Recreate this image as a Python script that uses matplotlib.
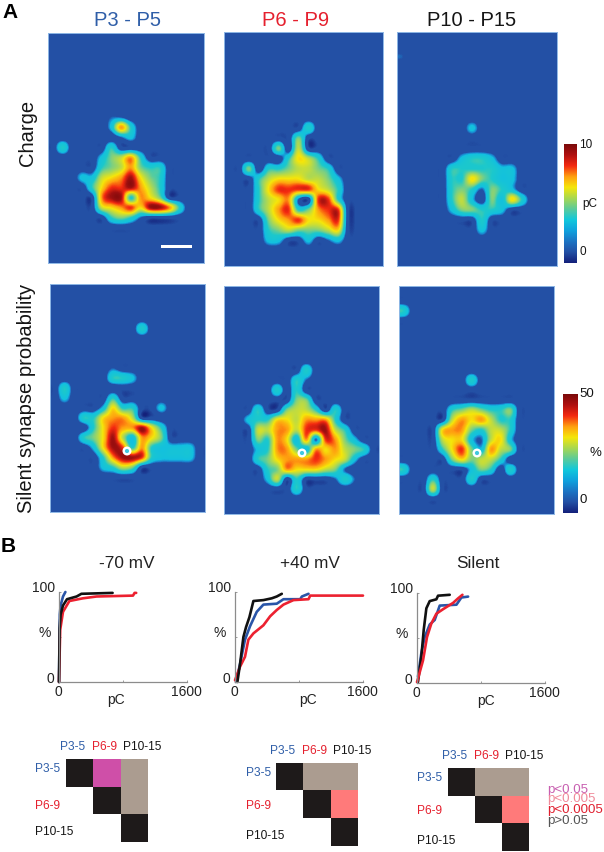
import numpy as np
import matplotlib
matplotlib.use('Agg')
from matplotlib import pyplot as plt
from matplotlib.colors import LinearSegmentedColormap, ListedColormap

plt.rcParams['font.family'] = ['Liberation Sans', 'DejaVu Sans']

W, H = 604, 852
BLUE = '#2f5ea8'
RED = '#e5202e'
BLACK = '#151515'
GREY = '#8c8c8c'

# heat maps, one digit per cell (0 = background, 9 = peak)
charge_p3 = [''] * 8 + [
    '00000011', '000000273', '000000012', '0300003', '0000024573',
    '000003457433', '000225679643', '000036889753', '000007993764',
    '00000567869973', '0000003431']
charge_p6 = [''] * 9 + [
    '000000003', '0000000400', '000004050', '000000365300',
    '004033455430', '000356665542', '000368888653', '000356710883',
    '000357834788', '000046786678', '000034544456', '0000220020120']
charge_p10 = ['', '', '1'] + [''] * 6 + [
    '00000002', '', '',
    '000000233200', '000003333322', '000003364322', '000003431432',
    '0000035204263', '000002443320', '000000003', '000000002']
silent_p3 = [''] * 4 + ['0000000003'] + [''] * 3 + [
    '000000100', '000000332', '03', '02000030', '000002633002',
    '00033677500', '000036877963', '000346952764', '000026983732222',
    '000003799832222', '0000023540']
silent_p6 = [''] * 8 + [
    '000000003', '000000031', '000003030', '0000000440', '000300455303',
    '0023366577730', '0005577588953000', '000437627187420',
    '000237742767543', '0003467778765200', '0000347666541', '00002503000131',
    '00000003']
silent_p10 = ['', '', '3'] + [''] * 6 + [
    '0000000300', '', '',
    '000003454334', '000005767533', '000067743553', '000056621562',
    '000036842754', '000004645530', '300000024303', '000300030',
    '00050000']

# cumulative curves, x in pC, y in %
curves_70 = {
    'blue': ([0, 5, 10, 20, 35, 50, 80], [0, 40, 75, 85, 90, 95, 100]),
    'red': ([0, 15, 50, 130, 300, 470, 925, 945, 965], [0, 58, 78, 90, 93, 95, 96, 99, 99]),
    'black': ([0, 8, 20, 50, 100, 220, 280, 670], [0, 60, 75, 85, 92, 95, 98, 99]),
}
curves_40 = {
    'blue': ([12, 63, 125, 188, 272, 355, 522, 606, 815, 836, 919],
             [0, 20, 47, 62, 78, 86, 87, 92, 92, 95, 98]),
    'red': ([0, 63, 125, 167, 230, 355, 439, 522, 606, 731, 919, 940, 1600],
            [2, 17, 28, 47, 54, 63, 73, 80, 86, 91, 92, 96, 96]),
    'black': ([30, 63, 105, 138, 180, 230, 355, 460, 522, 585],
              [0, 20, 50, 61, 72, 90, 91, 93, 95, 98]),
}
curves_silent = {
    'blue': ([12, 54, 96, 159, 221, 284, 493, 555, 639], [7, 33, 51, 65, 70, 86, 87, 95, 96]),
    'black': ([12, 54, 84, 117, 159, 242, 263, 409], [1, 29, 59, 83, 91, 93, 97, 98]),
    'red': ([0, 75, 125, 179, 242, 326, 451, 513, 568], [1, 25, 51, 66, 77, 82, 89, 94, 98]),
}

# significance tables: 0 blank, 1 same group, 2 p<0.05, 3 p<0.0005, 4 p>0.05
table_70 = [[1, 2, 4], [0, 1, 4], [0, 0, 1]]
table_40 = [[1, 4, 4], [0, 1, 3], [0, 0, 1]]
table_silent = [[1, 4, 4], [0, 1, 3], [0, 0, 1]]

age_titles = ['P3 - P5', 'P6 - P9', 'P10 - P15']
age_short = ['P3-5', 'P6-9', 'P10-15']
age_colors = [BLUE, RED, BLACK]

fig = plt.figure(figsize=(W / 100, H / 100), dpi=100, facecolor='white')


def px_axes(x0, y0, x1, y1):
    return fig.add_axes([x0 / W, 1 - y1 / H, (x1 - x0) / W, (y1 - y0) / H])


def px_text(x, y, s, size=10, color=BLACK, ha='center', va='center', **kw):
    fig.text(x / W, 1 - y / H, s, fontsize=size, color=color, ha=ha, va=va, **kw)


def to_grid(rows):
    grid = np.zeros((23, 16))
    for r, row in enumerate(rows):
        for c, ch in enumerate(row):
            grid[r, c] = int(ch)
    return grid


# the maps have hard contours, so the colours sit unevenly on the digit scale
heat_stops = [(-1, '#14207a'), (-0.25, '#2350a5'), (0.9, '#2350a5'), (1.25, '#1a86d0'),
              (1.7, '#12c0e0'), (3.0, '#1cc8cc'), (4.0, '#7fd080'), (5.0, '#c0dc40'),
              (5.9, '#f5e60a'), (7.0, '#ffa010'), (8.0, '#f42a10'), (9.0, '#a01010'),
              (10, '#7a0a0a')]
heat_cmap = LinearSegmentedColormap.from_list(
    'heat', [((v + 1) / 11, c) for v, c in heat_stops])
bar_cmap = LinearSegmentedColormap.from_list('bar', [
    '#14207a', '#2350a5', '#1c74c4', '#0fa2de', '#12c8dc', '#5ccb9a',
    '#a8d850', '#f5e60a', '#ffa010', '#f42a10', '#b01010', '#7a0a0a'])

heat_panels = [
    (charge_p3, (48, 33, 204, 263), None),
    (charge_p6, (224, 32, 383, 266), None),
    (charge_p10, (397, 32, 557, 266), None),
    (silent_p3, (50, 284, 205, 512), (127, 451)),
    (silent_p6, (224, 286, 379, 514), (302, 453)),
    (silent_p10, (399, 286, 554, 514), (477, 453)),
]
for rows, box, soma in heat_panels:
    ax = px_axes(*box)
    ax.imshow(to_grid(rows), cmap=heat_cmap, vmin=-1, vmax=10, aspect='auto',
              interpolation='catrom', interpolation_stage='data')
    ax.set_xticks([])
    ax.set_yticks([])
    for s in ax.spines.values():
        s.set_color('#8fb8e6')
        s.set_linewidth(0.7)
    if soma:
        fig.add_artist(plt.Circle((soma[0] / 100, (H - soma[1]) / 100), 3.3 / 100,
                                  transform=fig.dpi_scale_trans, fc='#40c8e0', ec='white', lw=1.7))

# scale bar
fig.add_artist(plt.Rectangle((161 / W, 1 - 247.5 / H), 31 / W, 3 / H, transform=fig.transFigure,
                             fc='white', ec='none'))

# colour bars
gradient = np.linspace(10, -1, 256).reshape(-1, 1)
for box in [(564, 144, 577, 263), (563, 394, 578, 513)]:
    ax = px_axes(*box)
    ax.imshow(gradient, cmap=bar_cmap, vmin=-1, vmax=10, aspect='auto')
    ax.axis('off')

px_text(579, 145, '10', 8.5, ha='left')
px_text(582, 204, 'pC', 8.5, ha='left')
px_text(579, 252, '0', 8.5, ha='left')
px_text(579, 394, '50', 9.5, ha='left')
px_text(590, 453, '%', 9.5, ha='left')
px_text(579, 500, '0', 9.5, ha='left')

# panel labels
px_text(10, 12, 'A', 15, color='black', fontweight='bold')
px_text(8, 546, 'B', 15, color='black', fontweight='bold')
for x, s, c in zip([127, 296, 472], age_titles, age_colors):
    px_text(x, 20, s, 14.5, color=c)
px_text(27, 133, 'Charge', 14.5, rotation=90)
px_text(27, 398, 'Silent synapse probability', 14.5, rotation=90)

# panel B curves
line_colors = {'blue': '#2a55a8', 'red': '#ec2130', 'black': '#111111'}
curve_panels = [
    (curves_70, (59, 592, 187, 682), '-70 mV', 127, 116, 45),
    (curves_40, (235, 592, 363, 682), '+40 mV', 310, 308, 220),
    (curves_silent, (417, 593, 545, 683), 'Silent', 478, 486, 402),
]
for curves, box, title, title_x, pc_x, pct_x in curve_panels:
    ax = px_axes(*box)
    for name, (xs, ys) in curves.items():
        ax.plot(xs, ys, color=line_colors[name], lw=1.9, clip_on=False,
                solid_joinstyle='round', solid_capstyle='round')
    ax.set_xlim(0, 1600)
    ax.set_ylim(0, 100)
    ax.patch.set_visible(False)
    for side in ['top', 'right']:
        ax.spines[side].set_visible(False)
    for side in ['left', 'bottom']:
        ax.spines[side].set_color(GREY)
        ax.spines[side].set_linewidth(0.9)
    ax.set_xticks([0, 800, 1600])
    ax.set_yticks([0, 50, 100])
    ax.tick_params(direction='in', length=1.5, width=0.6, color=GREY, labelleft=False, labelbottom=False)
    x0, y0, x1, y1 = box
    px_text(title_x, 563, title, 12.4, color='#222222')
    px_text(x0 - 4, y0 - 4, '100', 10, color='#222222', ha='right')
    px_text(x0 - 5, y1 - 3, '0', 10, color='#222222', ha='right')
    px_text(x0 - 1, y1 + 10, '0', 10, color='#222222')
    px_text(x1 - 1, y1 + 10, '1600', 10, color='#222222')
    px_text(pc_x, y1 + 18, 'pC', 10, color='#222222')
    px_text(pct_x, y0 + 41, '%', 10, color='#222222')

# significance tables
table_cmap = ListedColormap(['white', '#1e1a1a', '#cf4fa8', '#ff7a7a', '#ab9c90'])
table_panels = [
    (table_70, (66, 759, 148, 842), [73, 105, 142], 747, 35, [769, 806, 832]),
    (table_40, (276, 763, 358, 846), [283, 315, 352], 751, 246, [773, 806, 836]),
    (table_silent, (448, 768, 529, 851), [455, 487, 524], 756, 417, [778, 811, 841]),
]
for table, box, top_x, top_y, left_x, left_y in table_panels:
    ax = px_axes(*box)
    ax.imshow(table, cmap=table_cmap, vmin=0, vmax=4, aspect='auto', interpolation='nearest')
    ax.axis('off')
    for x, s, c in zip(top_x, age_short, age_colors):
        px_text(x, top_y, s, 8.6, color=c)
    for y, s, c in zip(left_y, age_short, age_colors):
        px_text(left_x, y, s, 8.6, color=c, ha='left')

# p value key
for y, s, c in zip([790, 799, 810, 821],
                   ['p<0.05', 'p<0.005', 'p<0.0005', 'p>0.05'],
                   ['#c85fb0', '#f08a9a', '#e02030', '#555555']):
    px_text(547, y, s, 9.6, color=c, ha='left')

fig.savefig('out.png', dpi=100)
